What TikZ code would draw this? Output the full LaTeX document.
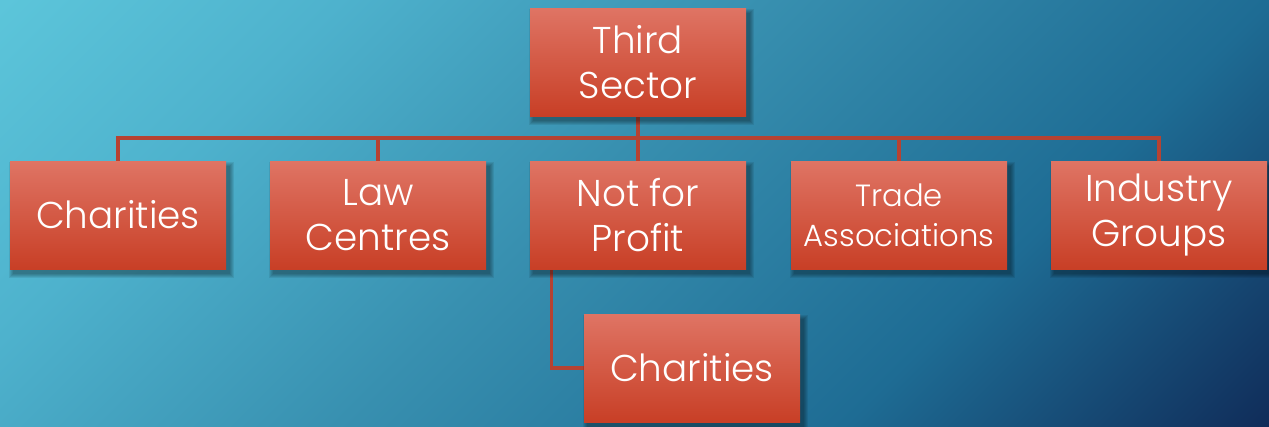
\documentclass[tikz,border=0pt]{standalone}
\usepackage{fontspec}
\setmainfont{Poppins Light}
\usetikzlibrary{calc}
\definecolor{bg0}{RGB}{92,197,218}
\definecolor{bg1}{RGB}{78,178,205}
\definecolor{bg2}{RGB}{56,144,176}
\definecolor{bg3}{RGB}{30,108,148}
\definecolor{bg4}{RGB}{16,45,90}
\definecolor{boxtop}{RGB}{223,116,100}
\definecolor{boxbot}{RGB}{200,63,38}
\definecolor{linkc}{RGB}{182,66,50}
\pgfdeclarehorizontalshading{bgsh}{100bp}{color(0bp)=(bg0); color(26.4bp)=(bg0); color(35.8bp)=(bg1); color(47.6bp)=(bg2); color(61.8bp)=(bg3); color(73.6bp)=(bg4); color(100bp)=(bg4)}
\pgfdeclarelayer{bglayer}
\pgfdeclarelayer{linklayer}
\pgfsetlayers{bglayer,linklayer,main}
\tikzset{
  box/.style={rectangle, minimum width=162pt, minimum height=81pt, inner sep=0pt,
    top color=boxtop, bottom color=boxbot, draw=none, text=white, align=center,
    font=\fontsize{28}{34}\selectfont},
  smallbox/.style={box, font=\fontsize{23}{30}\selectfont},
  link/.style={draw=linkc, line width=2.6pt},
  shadowpiece/.style={fill=black, opacity=0.08}
}
\begin{document}
\begin{tikzpicture}[x=0.75pt,y=-0.75pt]
\useasboundingbox (0,0) rectangle (1269,426);
\begin{pgfonlayer}{bglayer}
\clip (0,0) rectangle (1269,426);
\shade[shading=bgsh, shading angle=-45] (0,-421.5) rectangle (1269,847.5);
\end{pgfonlayer}
\coordinate (bus) at (638,138);
\node[box] (ts) at (638,62) {Third\\Sector};
\node[box] (c1) at (118,215) {Charities};
\node[box] (c2) at (378,215) {Law\\Centres};
\node[box] (c3) at (638,215) {Not for\\Profit};
\node[smallbox] (c4) at (899,215) {Trade\\Associations};
\node[box] (c5) at (1159,215) {Industry\\Groups};
\node[box] (c6) at (692,368) {Charities};
\begin{pgfonlayer}{linklayer}
\foreach \c in {c1,c2,c3,c4,c5}{
  \draw[link] (ts.south) |- (\c.north |- bus) -- (\c.north);
}
\draw[link] ($(c3.south west)+(22,0)$) |- (c6.west);
\foreach \n in {ts,c1,c2,c3,c4,c5,c6}{
  \foreach \k in {1,...,5}{
    \fill[shadowpiece] ($(\n.north west)+(4-\k,6-\k)$) rectangle ($(\n.south east)+(3+\k,4+\k)$);
  }
}
\end{pgfonlayer}
\end{tikzpicture}
\end{document}
